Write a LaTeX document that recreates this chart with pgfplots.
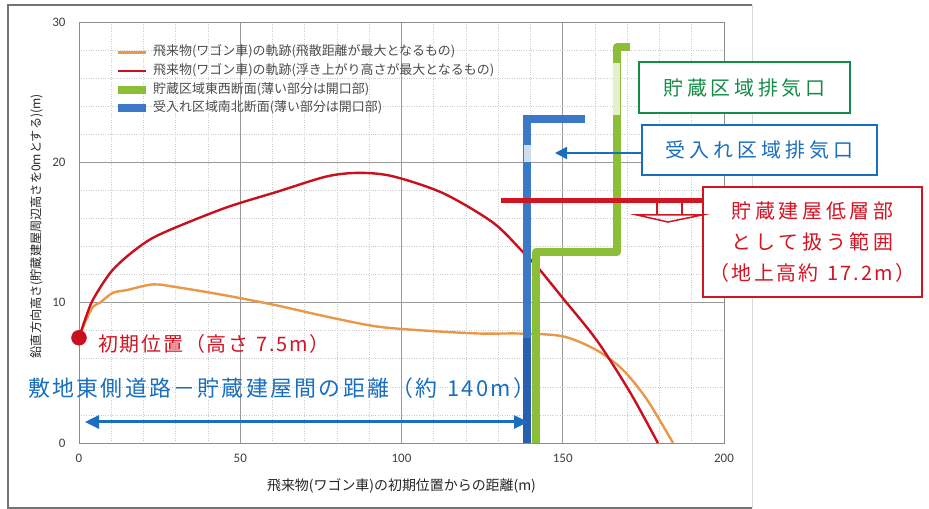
\documentclass[border=0pt]{standalone}
\usepackage{fontspec}
\setmainfont{Noto Sans CJK JP}
\newfontfamily\tickfont{Carlito}
\usepackage{pgfplots}
\pgfplotsset{compat=1.18}
\usetikzlibrary{arrows.meta}
\definecolor{cOrange}{RGB}{232,152,72}
\definecolor{cRed}{RGB}{200,16,30}
\definecolor{cGreen}{RGB}{140,190,55}
\definecolor{cGreenPale}{RGB}{228,240,205}
\definecolor{cBlue}{RGB}{60,120,200}
\definecolor{cBlueDark}{RGB}{40,95,175}
\definecolor{cBluePale}{RGB}{205,222,242}
\definecolor{aBlue}{RGB}{25,110,190}
\definecolor{aGreen}{RGB}{20,140,70}
\definecolor{aRed}{RGB}{210,20,35}
\makeatletter
\newlength\ls@amt
\def\ls@end{\ls@end}
\def\ls@loop#1{\ifx#1\ls@end\else#1\hskip\ls@amt\relax\expandafter\ls@loop\fi}
\newcommand\ls[2]{{\ls@amt=#1\relax\ls@loop#2\ls@end\unskip}}
\makeatother
\begin{document}
\begin{tikzpicture}
\useasboundingbox (0,0) rectangle (929bp,509bp);
\begin{scope}[x=1bp,y=-1bp,yshift=509bp]
\fill[white] (0,0) rectangle (929,509);
\draw[black!15, line width=1bp] (752,5) -- (752,508);
\draw[black!55, line width=1.3bp] (752,5) -- (8,5) -- (8,508) -- (752,508);
\end{scope}
\begin{axis}[
  at={(79bp,66bp)}, anchor=south west,
  width=645bp, height=421bp, scale only axis,
  xmin=0, xmax=200, ymin=0, ymax=30,
  xtick={0,50,...,200}, ytick={0,10,20,30},
  minor x tick num=4, minor y tick num=4,
  grid=both,
  major grid style={draw=black!40, line width=0.7bp},
  minor grid style={draw=black!20, dotted, line width=0.7bp},
  axis line style={draw=black!45, line width=0.8bp},
  major tick length=0pt, minor tick length=0pt,
  ticklabel style={font=\tickfont\fontsize{13}{15}\selectfont, text=black!75},
  /pgf/number format/assume math mode=true,
  xticklabel style={yshift=-8bp},
  yticklabel style={xshift=-10bp},
  xlabel={飛来物(ワゴン車)の初期位置からの距離(m)},
  ylabel={鉛直方向高さ(貯蔵建屋周辺高さを0mとする)(m)},
  xlabel style={at={(axis description cs:0.5,-0.102)}, anchor=center, font=\fontsize{14}{16}\selectfont, text=black!85},
  ylabel style={at={(axis description cs:-0.066,0.515)}, anchor=center, font=\fontsize{12.2}{14}\selectfont, text=black!85},
  legend style={at={(0.05,0.955)}, anchor=north west, draw=none, fill=none,
    font=\fontsize{13}{15}\selectfont, text=black!70,
    nodes={text height=10bp, text depth=3bp, inner sep=2.8bp}},
  legend cell align=left,
  legend image code/.code={\draw[#1] (0bp,0bp) -- (28bp,0bp);},
  clip=false,
]
\addplot[cOrange, line width=2.4bp, smooth, tension=0.5] coordinates {
 (0,7.5) (1.9,8.6) (4.3,9.7) (6.5,10.0) (10.5,10.7) (14.9,10.9) (22.9,11.3)
 (30.4,11.1) (45.9,10.5) (61.4,9.8) (76.9,9.0) (92.4,8.3) (107.9,8.0)
 (124.3,7.8) (136.7,7.8) (150.1,7.6) (160.6,6.6) (168.7,5.2) (176.1,3.1) (184.2,0)};
\addlegendentry{飛来物(ワゴン車)の軌跡(飛散距離が最大となるもの)}
\addplot[cRed, line width=2.4bp, smooth, tension=0.5] coordinates {
 (0,7.5) (1.9,8.8) (4.3,10.2) (9.6,12.1) (14.9,13.3) (22,14.5) (30.4,15.4)
 (45.9,16.8) (61.4,17.9) (76.9,19.0) (87.1,19.25) (97.4,19.0) (112.9,17.8)
 (128.4,15.7) (137.7,13.6) (142.3,12.5) (150.1,10.3) (160.6,7.3) (170.9,3.6) (179.5,0)};
\addlegendentry{飛来物(ワゴン車)の軌跡(浮き上がり高さが最大となるもの)}
\addplot[cGreen, line width=8bp, line join=round] coordinates {
 (141.7,0) (141.7,13.6) (166.8,13.6) (166.8,28.2) (170.8,28.2)};
\addlegendentry{貯蔵区域東西断面(薄い部分は開口部)}
\addplot[cBlue, line width=8bp] coordinates {(139,0) (139,23.1) (156.9,23.1)};
\addlegendentry{受入れ区域南北断面(薄い部分は開口部)}
\addplot[cGreenPale, line width=7bp, forget plot] coordinates {(166.8,23.4) (166.8,27.1)};
\addplot[cBluePale, line width=7bp, forget plot] coordinates {(139,20.0) (139,21.2)};
\addplot[cBlueDark, line width=8bp, forget plot] coordinates {(139,0) (139,7.5)};
\addplot[aRed, line width=5bp, forget plot] coordinates {(130.7,17.3) (194,17.3)};
\addplot[only marks, mark=*, mark size=7.5bp, cRed, forget plot] coordinates {(0,7.5)};
\end{axis}
\begin{scope}[x=1bp,y=-1bp,yshift=509bp]
\node[aRed, anchor=west, font=\fontsize{20}{24}\selectfont, inner sep=0pt] at (98,344) {\ls{1.8bp}{初期位置（高さ~7.5m）}};
\node[aBlue, anchor=west, font=\fontsize{22}{26}\selectfont, inner sep=0pt] at (28,388) {\ls{2.3bp}{敷地東側道路－貯蔵建屋間の距離（約~140m）}};
\draw[aBlue, line width=3bp, {Triangle[length=14bp,width=13bp]}-{Triangle[length=14bp,width=13bp]}] (85,422) -- (528,422);
\node[draw=aGreen, fill=white, line width=2bp, text=aGreen, minimum width=211bp, minimum height=51bp, font=\fontsize{20}{24}\selectfont, inner sep=0pt] at (744.5,87.5) {\ls{3.7bp}{貯蔵区域排気口}};
\node[draw=aBlue, fill=white, line width=1.6bp, text=aBlue, minimum width=235bp, minimum height=50bp, font=\fontsize{20}{24}\selectfont, inner sep=0pt] at (759.5,150) {\ls{4.1bp}{受入れ区域排気口}};
\draw[aBlue, line width=1.8bp, -{Triangle[length=12bp,width=12bp]}] (642,153) -- (555,153);
\node[draw=aRed, fill=white, line width=1.8bp, text=aRed, minimum width=219bp, minimum height=110bp, align=center, font=\fontsize{20}{31}\selectfont, inner sep=0pt] at (812.5,242) {\ls{3.8bp}{貯蔵建屋低層部}\\\ls{3.8bp}{として扱う範囲}\\\ls{2.2bp}{（地上高約~17.2m）}};
\draw[aRed, line width=1.5bp] (657,200) -- (657,215) (682,200) -- (682,215);
\draw[aRed, line width=1.5bp, line join=miter] (637,215) -- (702,215) -- (668,222) -- cycle;
\end{scope}
\end{tikzpicture}
\end{document}
